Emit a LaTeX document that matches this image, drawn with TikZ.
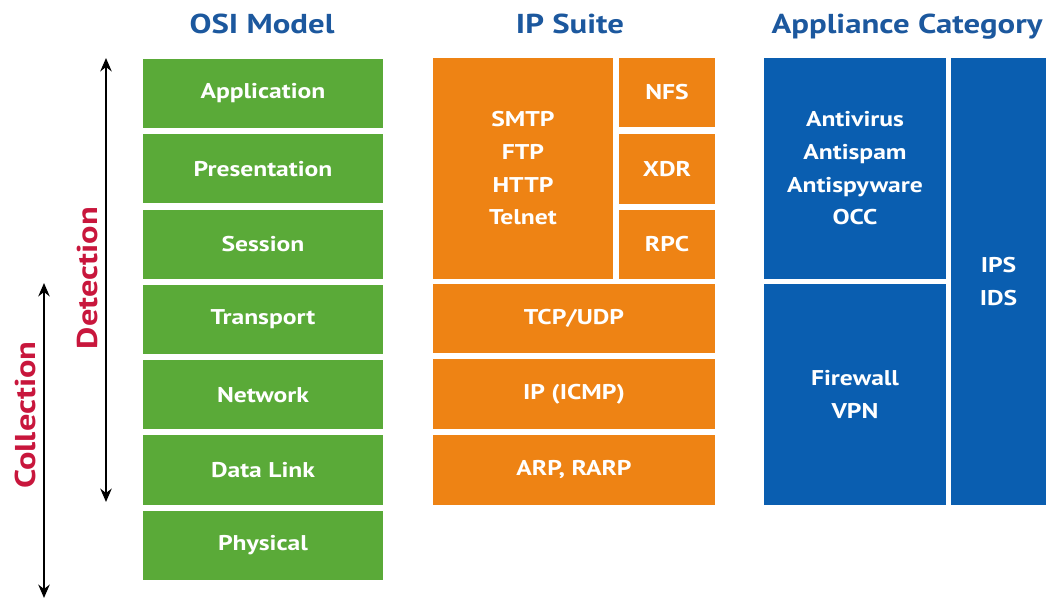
\documentclass[tikz,border=0pt]{standalone}
\usepackage{fontspec}
\setmainfont[FakeStretch=1.2]{PT Sans}
\usetikzlibrary{arrows.meta}

\definecolor{osigreen}{RGB}{90,170,56}
\definecolor{iporange}{RGB}{238,131,20}
\definecolor{appblue}{RGB}{10,94,176}
\definecolor{titleblue}{RGB}{28,88,158}
\definecolor{labelred}{RGB}{200,22,60}

\tikzset{
	layer/.style={rectangle, inner sep=0pt, align=center, text=white,
		font=\bfseries\fontsize{16}{24.5}\selectfont},
	osi/.style={layer, fill=osigreen, minimum width=180pt, minimum height=51.75pt},
	ipbox/.style={layer, fill=iporange},
	appbox/.style={layer, fill=appblue},
	heading/.style={anchor=base, text=titleblue, font=\bfseries\fontsize{20.5}{24}\selectfont},
	scopelabel/.style={text=labelred, rotate=90, font=\bfseries\fontsize{21.5}{24}\selectfont},
	scopearrow/.style={{Stealth[length=10pt,width=8.5pt]}-{Stealth[length=10pt,width=8.5pt]}, line width=2pt}
}

\begin{document}
\begin{tikzpicture}[x=0.75pt, y=-0.75pt]
			%%%%% START %%%%%
			\useasboundingbox (0,0) rectangle (1057,598);
			
			% headings
			\node[heading] (osititle) at (262, 33.5) {OSI Model};
			\node[heading] (iptitle) at (570, 33.5) {IP Suite};
			\node[heading] (apptitle) at (907, 33.5) {Appliance Category};
			
			% OSI layers
			\node[osi] (application) at (263, 93.5) {Application};
			\node[osi] (presentation) at (263, 168.8) {Presentation};
			\node[osi] (session) at (263, 244.1) {Session};
			\node[osi] (transport) at (263, 319.4) {Transport};
			\node[osi] (network) at (263, 394.7) {Network};
			\node[osi] (datalink) at (263, 470) {Data Link};
			\node[osi] (physical) at (263, 545.3) {Physical};
			
			% IP suite
			\node[ipbox, minimum width=135pt, minimum height=165.75pt] (apps) at (523, 168.5) {SMTP\\FTP\\HTTP\\Telnet};
			\node[ipbox, minimum width=72pt, minimum height=51.75pt] (nfs) at (667, 92.5) {NFS};
			\node[ipbox, minimum width=72pt, minimum height=52.5pt] (xdr) at (667, 169) {XDR};
			\node[ipbox, minimum width=72pt, minimum height=51.75pt] (rpc) at (667, 244.5) {RPC};
			\node[ipbox, minimum width=211.5pt, minimum height=51.75pt] (tcpudp) at (574, 318.5) {TCP/UDP};
			\node[ipbox, minimum width=211.5pt, minimum height=52.5pt] (ipicmp) at (574, 394) {IP (ICMP)};
			\node[ipbox, minimum width=211.5pt, minimum height=52.5pt] (arp) at (574, 470) {ARP, RARP};
			
			% appliances
			\node[appbox, minimum width=136.5pt, minimum height=165.75pt] (antivirus) at (855, 168.5) {Antivirus\\Antispam\\Antispyware\\OCC};
			\node[appbox, minimum width=136.5pt, minimum height=165.75pt] (firewall) at (855, 394.5) {Firewall\\VPN};
			\node[appbox, minimum width=71.25pt, minimum height=335.25pt] (ipsids) at (998.5, 281.5) {IPS\\IDS};
			
			% scope arrows
			\coordinate (dtop) at (106, 58);
			\coordinate (dbot) at (106, 502);
			\draw[scopearrow] (dtop) -- (dbot);
			\node[scopelabel] (detection) at (88, 278) {Detection};
			
			\coordinate (ctop) at (44, 283);
			\coordinate (cbot) at (44, 598);
			\draw[scopearrow] (ctop) -- (cbot);
			\node[scopelabel] (collection) at (25, 415) {Collection};
			
			%%%%% END %%%%%
\end{tikzpicture}
\end{document}
